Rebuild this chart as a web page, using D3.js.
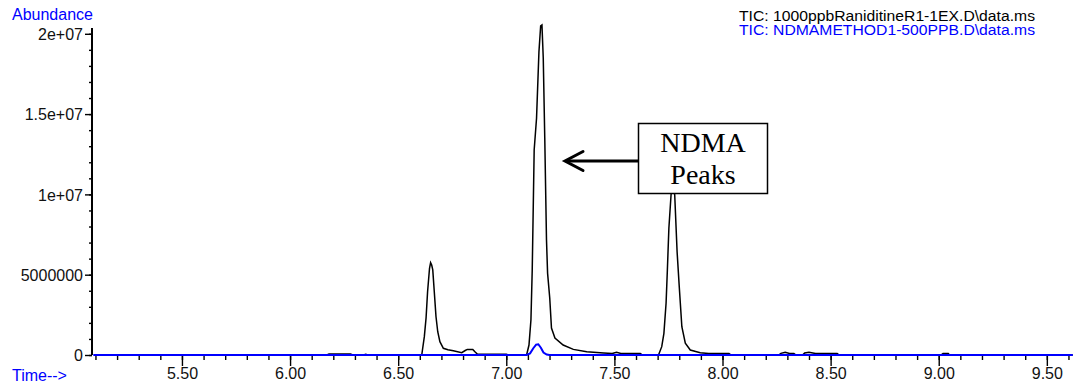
<!DOCTYPE html>
<html>
<head>
<meta charset="utf-8">
<script src="https://cdn.jsdelivr.net/npm/d3@7"></script>
<style>
  html, body { margin: 0; padding: 0; background: #fff; }
  svg { display: block; }
  text { font-family: "Liberation Sans", Arial, sans-serif; }
</style>
</head>
<body>
<div id="chart"></div>
<script>
// ── Data (time in min, abundance in counts) ─────────────────────────────────
const ranitidineTime = [
  5.10, 6.17, 6.18, 6.28, 6.29, 6.34, 6.35, 6.36, 6.609, 6.621, 6.629, 6.636,
  6.645, 6.650, 6.655, 6.660, 6.667, 6.675, 6.683, 6.693, 6.709, 6.73, 6.755,
  6.794, 6.81, 6.82, 6.845, 6.855, 6.866, 7.0, 7.01, 7.094, 7.105, 7.114, 7.120,
  7.129, 7.140, 7.151, 7.159, 7.165, 7.171, 7.178, 7.186, 7.191, 7.201, 7.209,
  7.225, 7.263, 7.31, 7.372, 7.45, 7.49, 7.51, 7.53, 7.62, 7.63, 7.704, 7.719,
  7.729, 7.739, 7.745, 7.752, 7.762, 7.770, 7.779, 7.790, 7.800, 7.812, 7.828,
  7.851, 7.897, 7.936, 8.03, 8.04, 8.26, 8.27, 8.29, 8.31, 8.33, 8.34, 8.37,
  8.38, 8.40, 8.43, 8.53, 8.54, 9.01, 9.02, 9.044, 9.05, 9.62
];
const ranitidineAbund = [
  0, 0, 0.06e6, 0.06e6, 0, 0, 0.05e6, 0, 0, 1.14e6, 2.3e6, 3.94e6,
  5.4e6, 5.75e6, 5.6e6, 5.3e6, 3.94e6, 2.38e6, 1.45e6, 0.83e6, 0.42e6, 0.33e6, 0.27e6,
  0.14e6, 0.28e6, 0.35e6, 0.35e6, 0.2e6, 0.06e6, 0.05e6, 0, 0, 0.62e6, 2.18e6, 5.29e6,
  12.76e6, 14.76e6, 18.87e6, 20.49e6, 20.55e6, 18.49e6, 13.51e6, 7.16e6, 5.1e6, 3.55e6, 1.68e6,
  1.06e6, 0.62e6, 0.35e6, 0.2e6, 0.12e6, 0.09e6, 0.17e6, 0.1e6, 0.09e6, 0, 0, 0.52e6,
  1.35e6, 3.22e6, 5.29e6, 7.89e6, 9.96e6, 10.9e6, 9.96e6, 6.43e6, 4.25e6, 1.76e6, 0.73e6,
  0.31e6, 0.14e6, 0.09e6, 0.09e6, 0, 0, 0.1e6, 0.17e6, 0.1e6, 0.1e6, 0, 0,
  0.12e6, 0.17e6, 0.1e6, 0.1e6, 0, 0, 0.09e6, 0.09e6, 0, 0
];

const ndmaTime = [5.09, 7.094, 7.11, 7.125, 7.138, 7.148, 7.160, 7.172, 7.187, 7.2, 9.62];
const ndmaAbund = [0, 0, 0.1e6, 0.42e6, 0.65e6, 0.67e6, 0.45e6, 0.15e6, 0.03e6, 0, 0];

const legendLabels = [
  "TIC: 1000ppbRaniditineR1-1EX.D\\data.ms",
  "TIC: NDMAMETHOD1-500PPB.D\\data.ms"
];
const seriesColors = ["#000000", "#0000ff"];

const xMajorTicks = [5.5, 6.0, 6.5, 7.0, 7.5, 8.0, 8.5, 9.0, 9.5];
const yMajorTicks = [0, 5e6, 1e7, 1.5e7, 2e7];
const yTickLabels = ["0", "5000000", "1e+07", "1.5e+07", "2e+07"];
const annotationLines = ["NDMA", "Peaks"];

// ── Layout ──────────────────────────────────────────────────────────────────
const width = 1073, height = 387;
const svg = d3.select("#chart").append("svg")
  .attr("width", width).attr("height", height);

const x = d3.scaleLinear().domain([5.084, 9.621]).range([92, 1073]);
const y = d3.scaleLinear().domain([0, 2.036e7]).range([355, 28]);

const xMinor = d3.range(51, 97).map(d => d / 10);
const yMinor = d3.range(0, 21).map(d => d * 1e6);

// ── Axes
const yAxis = svg.append("g").attr("transform", `translate(${x.range()[0]},0)`);
yAxis.call(d3.axisLeft(y).tickValues(yMinor).tickSize(3).tickFormat(""));
yAxis.append("g").call(d3.axisLeft(y).tickValues(yMajorTicks).tickSize(7)
  .tickFormat((d, i) => yTickLabels[i]));
yAxis.selectAll(".domain").remove();
yAxis.append("line").attr("x1", 0).attr("x2", 0)
  .attr("y1", y.range()[1]).attr("y2", y.range()[0])
  .attr("stroke", "#000").attr("stroke-width", 2);
yAxis.selectAll(".tick line").attr("stroke", "#000").attr("stroke-width", 1.4);
yAxis.selectAll(".tick text")
  .attr("font-size", 16).attr("fill", "#111").attr("x", -9).attr("dy", "0.36em");

const xAxis = svg.append("g").attr("transform", `translate(0,${y(0)})`);
xAxis.call(d3.axisBottom(x).tickValues(xMinor).tickSize(5).tickFormat(""));
xAxis.append("g").call(d3.axisBottom(x).tickValues(xMajorTicks).tickSize(11)
  .tickFormat(d3.format(".2f")));
xAxis.selectAll(".domain").remove();
xAxis.selectAll(".tick line").attr("stroke", "#000").attr("stroke-width", 1.4);
xAxis.selectAll(".tick text")
  .attr("font-size", 16).attr("fill", "#111").attr("y", 13).attr("dy", "0.71em");

// ── Traces
const line = d3.line().x(d => x(d[0])).y(d => y(d[1]));
const series = [
  d3.zip(ranitidineTime, ranitidineAbund),
  d3.zip(ndmaTime, ndmaAbund)
];
svg.append("g").selectAll("path").data(series).join("path")
  .attr("d", line)
  .attr("fill", "none")
  .attr("stroke", (d, i) => seriesColors[i])
  .attr("stroke-width", (d, i) => i === 0 ? 1.5 : 2)
  .attr("stroke-linejoin", "miter");

// ── Axis titles
svg.append("text").text("Abundance").attr("x", 12).attr("y", 20)
  .attr("font-size", 16).attr("fill", "#0000ff");
svg.append("text").text("Time-->").attr("x", 12).attr("y", 381)
  .attr("font-size", 16).attr("fill", "#0000ff");

// ── Legend
svg.append("g").selectAll("text").data(legendLabels).join("text")
  .text(d => d)
  .attr("x", 739).attr("y", (d, i) => 21 + i * 14)
  .attr("font-size", 14)
  .attr("textLength", 296).attr("lengthAdjust", "spacingAndGlyphs")
  .attr("fill", (d, i) => seriesColors[i]);

// ── Annotation
const note = svg.append("g");
note.append("rect")
  .attr("x", 638.5).attr("y", 123.5).attr("width", 129).attr("height", 70)
  .attr("fill", "#fff").attr("stroke", "#000").attr("stroke-width", 1.5);
note.selectAll("text").data(annotationLines).join("text")
  .text(d => d)
  .attr("x", 703).attr("y", (d, i) => 152 + i * 31.5)
  .attr("text-anchor", "middle")
  .attr("font-size", 28)
  .style("font-family", "'Liberation Serif', 'Times New Roman', serif")
  .attr("fill", "#000");
note.append("line")
  .attr("x1", 638).attr("x2", 566).attr("y1", 161).attr("y2", 161)
  .attr("stroke", "#000").attr("stroke-width", 3);
note.append("path")
  .attr("d", "M583,151.5 L565,161 L583,170.5")
  .attr("fill", "none").attr("stroke", "#000").attr("stroke-width", 3)
  .attr("stroke-linecap", "round");
</script>
</body>
</html>
